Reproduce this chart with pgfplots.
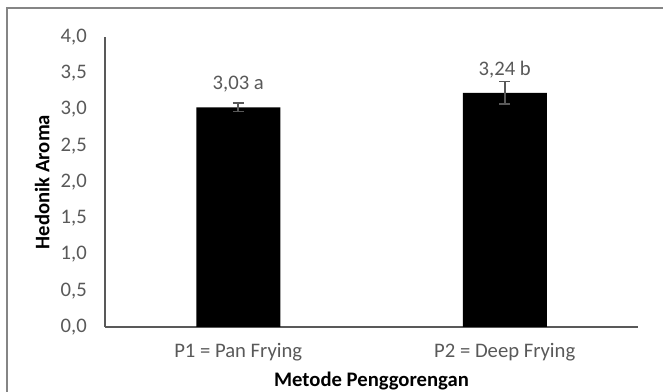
\documentclass[border=0pt]{standalone}
\usepackage{fontspec}
\setmainfont{Carlito}
\usepackage{pgfplots}
\usepackage{pgfplotstable}
\pgfplotsset{compat=1.18}
\definecolor{tickgray}{HTML}{595959}
\definecolor{framegray}{HTML}{858585}
\pgfplotstableread[col sep=semicolon]{
x;y;err;label
0;3.03;0.06;3,03 a
1;3.23;0.155;3,24 b
}\datatable
\begin{document}
\begin{tikzpicture}
\path[use as bounding box] (0pt,0pt) rectangle (497.25pt,294pt);
\draw[framegray, line width=1.5pt] (5.4pt,0pt) -- (5.4pt,288pt) -- (497.25pt,288pt);
\begin{axis}[
  at={(78.75pt,48.75pt)}, anchor=south west,
  scale only axis, width=399.75pt, height=217.5pt,
  xmin=-0.5, xmax=1.5, ymin=0, ymax=4,
  enlargelimits=false, clip=false,
  axis x line*=bottom, axis y line*=left,
  axis line style={black!65, line width=0.9pt, -},
  major tick length=0pt,
  xtick={0,1}, xticklabels={P1 = Pan Frying, P2 = Deep Frying},
  ytick={0,0.5,...,4},
  /pgf/number format/assume math mode=true,
  yticklabel style={/pgf/number format/fixed, /pgf/number format/fixed zerofill, /pgf/number format/precision=1, /pgf/number format/use comma},
  every tick label/.append style={font=\fontsize{15.5}{18}\selectfont, text=tickgray},
  xticklabel style={anchor=center, yshift=-18.75pt},
  yticklabel style={anchor=east, inner sep=0pt, xshift=-13.5pt},
  xlabel={Metode Penggorengan}, ylabel={Hedonik Aroma},
  label style={font=\bfseries\fontsize{15.5}{18}\selectfont},
  xlabel style={at={(axis description cs:0.5,-0.187)}, anchor=center},
  ylabel style={at={(axis description cs:-0.118,0.5)}, anchor=center},
  ybar, bar width=63pt,
  nodes near coords={\pgfplotspointmeta},
  nodes near coords style={anchor=center, yshift=17.25pt, text=tickgray, font=\fontsize{15.5}{18}\selectfont},
]
\addplot[fill=black, draw=none, point meta=explicit symbolic,
  error bars/.cd, y dir=both, y explicit,
  error bar style={color=tickgray, line width=1.2pt},
  error mark options={rotate=90, mark size=4.1pt, line width=1.2pt, color=tickgray}]
  table[x=x, y=y, y error=err, meta=label] {\datatable};
\end{axis}
\end{tikzpicture}
\end{document}
